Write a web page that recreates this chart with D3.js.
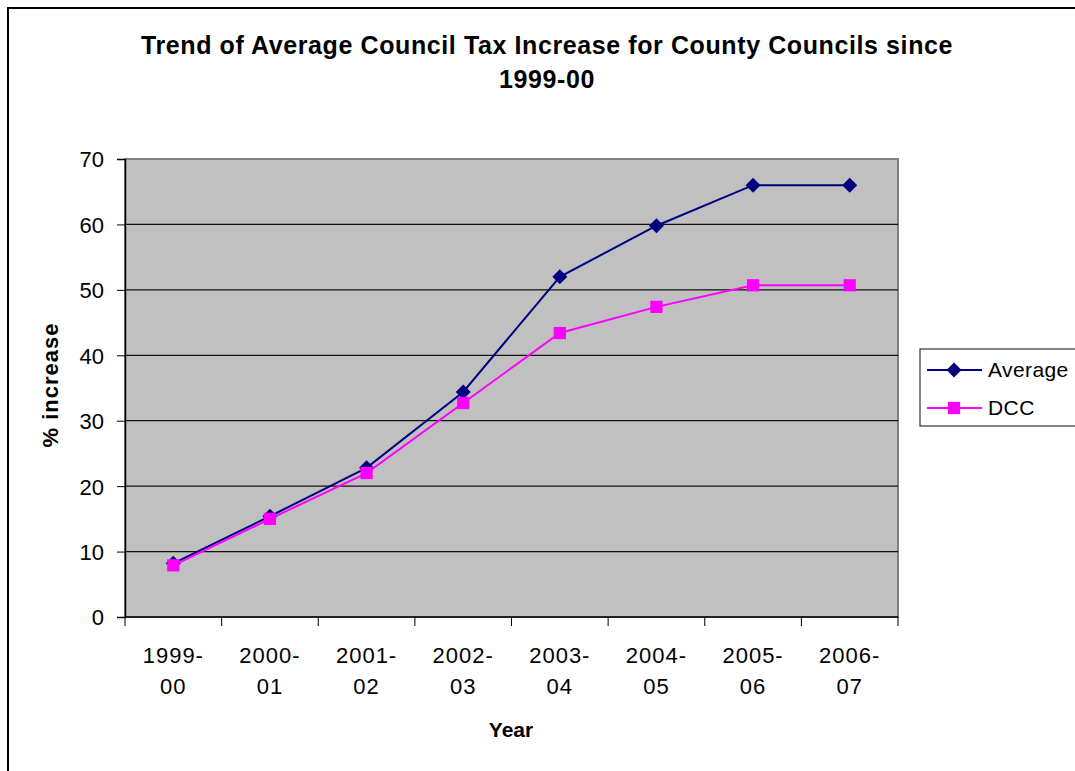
<!DOCTYPE html>
<html>
<head>
<meta charset="utf-8">
<script src="https://cdn.jsdelivr.net/npm/d3@7"></script>
<style>
  body { margin: 0; background: #fff; }
  svg { display: block; font-family: "Liberation Sans", Arial, sans-serif; }
</style>
</head>
<body>
<svg id="chart" width="1075" height="771"></svg>
<script>
// ─── data ────────────────────────────────────────────────────────────────
const years   = ['1999-00','2000-01','2001-02','2002-03','2003-04','2004-05','2005-06','2006-07'];
const average = [8.2, 15.4, 22.8, 34.4, 52.0, 59.8, 66.0, 66.0];
const dcc     = [7.9, 15.0, 22.0, 32.7, 43.4, 47.4, 50.7, 50.7];
const yTicks  = [0, 10, 20, 30, 40, 50, 60, 70];

// diamond = square turned 45deg
const diamond = {
  draw(ctx, size) {
    const r = Math.sqrt(size / 2);
    ctx.moveTo(0, -r); ctx.lineTo(r, 0); ctx.lineTo(0, r); ctx.lineTo(-r, 0); ctx.closePath();
  }
};

const series = [
  { name: 'Average', values: average, color: '#000080', marker: diamond,         size: 112 },
  { name: 'DCC',     values: dcc,     color: '#FF00FF', marker: d3.symbolSquare, size: 150 }
];

const svg = d3.select('#chart');
const plot = { left: 125, right: 898, top: 159, bottom: 617 };

// outer chart border (right / bottom are off-canvas)
svg.append('rect')
  .attr('x', 8).attr('y', 8).attr('width', 1100).attr('height', 800)
  .attr('fill', '#fff').attr('stroke', '#000').attr('stroke-width', 2);

const x = d3.scaleBand().domain(years).range([plot.left, plot.right]);
const y = d3.scaleLinear().domain([0, 70]).range([plot.bottom, plot.top]);

// plot area
svg.append('rect')
  .attr('x', plot.left).attr('y', plot.top)
  .attr('width', plot.right - plot.left).attr('height', plot.bottom - plot.top)
  .attr('fill', '#C0C0C0').attr('stroke', '#808080').attr('stroke-width', 2);

// gridlines
svg.append('g').selectAll('line')
  .data(yTicks.filter(t => t > 0 && t < 70)).enter().append('line')
  .attr('x1', plot.left).attr('x2', plot.right)
  .attr('y1', d => y(d)).attr('y2', d => y(d))
  .attr('stroke', '#111').attr('stroke-width', 1.3);

// y axis
const yAxis = svg.append('g')
  .attr('transform', `translate(${plot.left},0)`)
  .call(d3.axisLeft(y).tickValues(yTicks).tickSize(8).tickPadding(13));
yAxis.selectAll('text').attr('font-size', 22).attr('fill', '#000')
  .attr('font-family', '"Liberation Sans", Arial, sans-serif')
  .attr('dy', '0.36em');
yAxis.selectAll('line').attr('stroke', '#000');
yAxis.select('.domain').attr('stroke', '#000').attr('stroke-width', 1.5);

// x axis: ticks at band boundaries
const xAxisG = svg.append('g').attr('transform', `translate(0,${plot.bottom})`);
xAxisG.append('line')
  .attr('x1', plot.left).attr('x2', plot.right)
  .attr('stroke', '#000').attr('stroke-width', 1.5);
const bounds = years.map(d => x(d)).concat([x(years[years.length - 1]) + x.bandwidth()]);
xAxisG.selectAll('line.tick').data(bounds).enter().append('line')
  .attr('class', 'tick')
  .attr('x1', d => d).attr('x2', d => d).attr('y1', 0).attr('y2', 9)
  .attr('stroke', '#000');
const lbl = xAxisG.selectAll('text.lbl').data(years).enter().append('text')
  .attr('class', 'lbl')
  .attr('text-anchor', 'middle')
  .attr('font-size', 22)
  .attr('letter-spacing', 1);
lbl.append('tspan').attr('x', d => x(d) + x.bandwidth() / 2).attr('y', 46)
  .text(d => d.split('-')[0] + '-');
lbl.append('tspan').attr('x', d => x(d) + x.bandwidth() / 2).attr('y', 77)
  .text(d => d.split('-')[1]);

// series
const line = d3.line()
  .x((d, i) => x(years[i]) + x.bandwidth() / 2)
  .y(d => y(d));

series.forEach(s => {
  svg.append('path')
    .datum(s.values)
    .attr('d', line)
    .attr('fill', 'none')
    .attr('stroke', s.color)
    .attr('stroke-width', 2);
  svg.append('g').selectAll('path')
    .data(s.values).enter().append('path')
    .attr('d', d3.symbol().type(s.marker).size(s.size))
    .attr('transform', (d, i) => `translate(${x(years[i]) + x.bandwidth() / 2},${y(d)})`)
    .attr('fill', s.color);
});

// title
const title = svg.append('text')
  .attr('text-anchor', 'middle')
  .attr('font-size', 25).attr('font-weight', 'bold')
  .attr('letter-spacing', 0.6);
title.append('tspan').attr('x', 547).attr('y', 54)
  .text('Trend of Average Council Tax Increase for County Councils since');
title.append('tspan').attr('x', 547).attr('y', 88).text('1999-00');

// axis titles
svg.append('text')
  .attr('transform', 'translate(58,385) rotate(-90)')
  .attr('text-anchor', 'middle')
  .attr('font-size', 22).attr('font-weight', 'bold')
  .attr('letter-spacing', 1)
  .text('% increase');
svg.append('text')
  .attr('x', 511).attr('y', 737)
  .attr('text-anchor', 'middle')
  .attr('font-size', 21).attr('font-weight', 'bold')
  .text('Year');

// legend
const legend = svg.append('g').attr('transform', 'translate(920,349)');
legend.append('rect')
  .attr('width', 170).attr('height', 77)
  .attr('fill', '#fff').attr('stroke', '#333').attr('stroke-width', 1.2);
series.forEach((s, i) => {
  const ly = 21 + i * 38;
  legend.append('line')
    .attr('x1', 7).attr('x2', 62).attr('y1', ly).attr('y2', ly)
    .attr('stroke', s.color).attr('stroke-width', 2);
  legend.append('path')
    .attr('d', d3.symbol().type(s.marker).size(s.size))
    .attr('transform', `translate(34,${ly})`)
    .attr('fill', s.color);
  legend.append('text')
    .attr('x', 68).attr('y', ly + 7)
    .attr('font-size', 21)
    .attr('letter-spacing', 0.4)
    .text(s.name);
});
</script>
</body>
</html>
